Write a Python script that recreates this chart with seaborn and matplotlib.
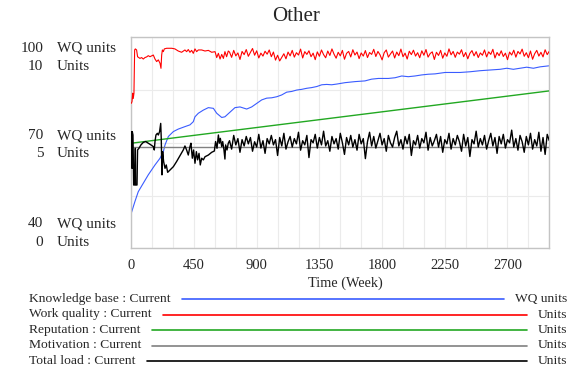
import numpy as np
import matplotlib
matplotlib.use("Agg")
import matplotlib.pyplot as plt
import seaborn as sns
from matplotlib.lines import Line2D

# ---------------- values
# Knowledge base (WQ units, left scale 40..100)
kb_weeks = [0, 26, 50, 86, 122, 170, 206, 230, 242, 266, 302, 337, 385, 421, 445,
            457, 481, 517, 553, 589, 613, 649, 672, 708, 744, 780, 828, 864, 900,
            936, 972, 1008, 1044, 1079, 1115, 1151, 1187, 1223, 1259, 1295, 1331,
            1367, 1402, 1438, 1474, 1534, 1606, 1677, 1725, 1773, 1845, 1893, 1941,
            1988, 2036, 2084, 2132, 2180, 2252, 2288, 2360, 2431, 2503, 2575, 2647,
            2695, 2742, 2790, 2838, 2886, 2934, 3000]
kb_values = [50.0, 53.3, 56.1, 58.5, 60.9, 63.7, 65.6, 67.5, 69.4, 71.8, 73.2, 73.9,
             74.6, 75.1, 76.0, 77.4, 78.4, 79.3, 80.0, 79.8, 78.4, 77.2, 77.4, 78.7,
             80.0, 80.2, 79.6, 80.2, 81.2, 82.2, 82.7, 82.8, 83.1, 83.6, 84.4, 84.6,
             85.0, 85.2, 85.5, 85.7, 86.0, 86.5, 86.6, 86.5, 86.7, 87.1, 87.4, 87.6,
             88.1, 88.3, 88.3, 88.5, 89.0, 88.8, 89.0, 89.3, 89.5, 89.6, 90.0, 90.0,
             90.0, 90.2, 90.5, 90.7, 90.9, 91.2, 90.9, 91.2, 91.5, 91.2, 91.6, 91.9]

# Work quality (Units, right scale 0..10)
wq_weeks = [0, 5, 10, 14, 19, 24, 29, 38, 45, 62, 74, 86, 98, 110, 122, 134, 158,
            170, 182, 194, 206, 213, 218, 223, 230, 237, 254, 290, 313, 337, 361,
            385, 397, 409, 421, 433, 445, 457, 469, 481, 505, 529, 553, 577, 601,
            613, 625, 637, 649, 661, 672, 684, 696]
wq_values = [6.87, 6.95, 7.35, 7.10, 7.35, 9.40, 9.45, 9.40, 9.08, 9.00, 9.04, 8.97,
             9.04, 9.07, 9.13, 9.08, 9.16, 8.97, 8.85, 8.93, 8.77, 8.53, 9.16, 9.40,
             9.32, 9.45, 9.48, 9.48, 9.45, 9.35, 9.29, 9.40, 9.32, 9.42, 9.29, 9.38,
             9.24, 9.45, 9.32, 9.40, 9.40, 9.35, 9.38, 9.29, 9.32, 9.04, 9.24, 8.97,
             9.19, 9.00, 9.32, 9.08, 9.35]
noise_weeks = np.arange(705, 3001, 15)
wq_noise = [9.30, 9.05, 9.38, 9.12, 9.26, 8.95, 9.33, 9.18, 9.42, 9.10,
            9.28, 9.47, 9.15, 9.36, 9.02, 9.25, 9.11, 9.34, 9.20, 9.40,
            9.08, 9.30, 8.92, 9.15, 8.88, 9.05, 9.22, 8.98, 9.30, 9.12,
            9.38, 9.06, 9.27, 9.16, 9.44, 9.02, 9.32, 9.19, 9.36, 9.08,
            9.25, 8.94, 9.31, 9.10, 9.40, 9.18, 9.03, 9.35, 9.14, 9.45,
            9.20, 9.01, 9.29, 9.12, 9.38, 8.96, 9.24, 9.33, 9.07, 9.41,
            9.16, 9.30, 8.99, 9.26, 9.11, 9.37, 9.04, 9.28, 9.19, 9.43,
            9.09, 9.33, 9.17, 8.93, 9.27, 9.40, 9.06, 9.21, 9.35, 9.02,
            9.30, 9.13, 9.44, 9.08, 9.25, 8.97, 9.34, 9.18, 9.39, 9.11,
            9.27, 9.03, 9.36, 9.15, 9.42, 9.06, 9.23, 9.31, 8.95, 9.29,
            9.14, 9.38, 9.01, 9.26, 9.10, 9.45, 9.17, 9.33, 9.05, 9.30,
            9.20, 9.41, 9.08, 9.28, 8.98, 9.24, 9.37, 9.12, 9.32, 9.04,
            9.26, 9.15, 9.40, 9.07, 9.31, 9.19, 9.43, 9.02, 9.28, 9.13,
            9.36, 9.09, 9.25, 8.94, 9.30, 9.16, 9.39, 9.06, 9.33, 9.21,
            9.44, 9.10, 9.27, 9.03, 9.35, 8.96, 9.22, 9.38, 9.11, 9.29,
            9.07, 9.41, 9.18, 9.34]

# Reputation and Motivation (Units)
rep_weeks = [0, 3000]
rep_values = [4.98, 7.46]
mot_weeks = [0, 3000]
mot_values = [4.79, 4.79]

# Total load (Units)
load_weeks = [0, 2, 5, 7, 12, 17, 24, 29, 31, 41, 45, 55, 69, 86, 103, 122, 141,
              158, 165, 170, 177, 187, 194, 203, 211, 215, 220, 225, 232, 242, 251,
              261, 278, 302, 325, 349, 373, 385, 397, 409, 421, 428, 438, 447, 457,
              467, 476, 486, 495, 505, 517, 529, 553, 577, 596, 605, 615, 625, 632,
              639, 649, 656, 665, 672, 677, 687, 696]
load_values = [5.53, 5.37, 3.79, 5.53, 5.37, 3.00, 3.00, 4.74, 3.00, 3.00, 4.66,
               4.74, 4.90, 5.02, 5.06, 4.98, 4.90, 4.82, 4.66, 5.06, 5.37, 5.45,
               5.37, 5.53, 5.92, 5.21, 3.48, 4.58, 4.11, 3.79, 3.95, 3.60, 3.71,
               3.87, 4.11, 4.39, 4.66, 4.85, 4.66, 4.42, 4.82, 4.98, 4.27, 4.66,
               4.03, 4.58, 4.19, 4.50, 3.95, 4.27, 4.19, 4.34, 4.42, 4.55, 4.61,
               5.06, 4.74, 5.37, 4.98, 5.21, 4.82, 5.06, 4.66, 4.23, 4.90, 4.66,
               4.98]
load_noise = [5.10, 4.70, 5.35, 4.90, 5.20, 4.55, 5.15, 4.85, 5.30, 4.95,
              5.25, 4.60, 5.05, 4.80, 5.40, 4.75, 5.10, 4.50, 5.20, 4.95,
              5.35, 4.90, 5.15, 4.40, 5.25, 4.85, 5.45, 4.70, 5.05, 5.30,
              4.80, 5.20, 4.95, 5.50, 4.65, 5.10, 4.90, 5.35, 4.30, 5.15,
              5.00, 5.40, 4.75, 5.25, 4.90, 5.55, 4.85, 5.10, 4.60, 5.30,
              4.95, 5.20, 4.70, 5.45, 5.00, 4.45, 5.25, 4.90, 5.35, 4.80,
              5.15, 4.65, 5.40, 4.95, 5.20, 4.25, 5.05, 5.50, 4.85, 5.30,
              4.75, 5.10, 5.45, 4.90, 5.20, 4.60, 5.35, 5.00, 4.80, 5.25,
              5.55, 4.85, 5.15, 4.70, 5.30, 4.95, 5.40, 4.40, 5.10, 4.90,
              5.35, 4.75, 5.20, 5.00, 5.50, 4.65, 5.25, 4.85, 5.10, 5.40,
              4.80, 5.30, 4.55, 5.15, 4.95, 5.45, 4.70, 5.20, 4.90, 5.35,
              5.05, 4.60, 5.40, 4.85, 5.25, 4.35, 5.15, 4.95, 5.55, 4.80,
              5.20, 4.90, 5.35, 4.70, 5.10, 5.45, 4.85, 5.25, 4.50, 5.30,
              4.95, 5.40, 4.75, 5.15, 5.00, 5.60, 4.80, 5.20, 4.65, 5.35,
              5.05, 4.55, 5.30, 4.90, 5.45, 4.70, 5.15, 4.85, 5.50, 4.60,
              5.25, 4.45, 5.40, 5.10]

series_names = ["Knowledge base : Current", "Work quality : Current",
                "Reputation : Current", "Motivation : Current",
                "Total load : Current"]
series_units = ["WQ units", "Units", "Units", "Units", "Units"]
series_colors = ["#3a5cff", "#ff0000", "#22a822", "#808080", "#000000"]
x_ticks = [0, 450, 900, 1350, 1800, 2250, 2700]
wq_ticks = ["100", "70", "40"]
unit_ticks = ["10", "5", "0"]

W, H = 570, 370


def fx(x):
    return x / W


def fy(y):
    return 1 - y / H


sns.set_style("white")
plt.rcParams["font.family"] = ["Liberation Serif", "DejaVu Serif"]
FS = 11

fig = plt.figure(figsize=(W / 100, H / 100), dpi=100)
ax = fig.add_axes([fx(131.3), fy(248.3), (549.3 - 131.3) / W, (248.3 - 37.3) / H])
ax2 = ax.twinx()

# left scale: knowledge base
ax.set_xlim(0, 3000)
ax.set_ylim(40, 100)
ax2.set_ylim(0, 10)
ax.set_yticks([40, 55, 70, 85, 100])
ax.set_yticklabels([])
ax.set_xticks(x_ticks)
ax.set_xticks(np.arange(0, 3001, 150), minor=True)
ax.set_xticklabels([str(t) for t in x_ticks], fontsize=10.5)
ax.tick_params(axis="both", which="both", length=0)
ax.tick_params(axis="x", pad=8)
ax.grid(True, which="both", color="#ebebeb", linewidth=0.8)
ax.set_axisbelow(True)
for s in ax.spines.values():
    s.set_color("#c4c4c4")
    s.set_linewidth(1.0)
ax2.set_yticks([])
for s in ax2.spines.values():
    s.set_visible(False)

sns.lineplot(x=kb_weeks, y=kb_values, ax=ax, color=series_colors[0], linewidth=0.8,
             estimator=None, sort=False)
sns.lineplot(x=list(wq_weeks) + list(noise_weeks), y=wq_values + wq_noise, ax=ax2,
             color=series_colors[1], linewidth=0.8, estimator=None, sort=False)
sns.lineplot(x=rep_weeks, y=rep_values, ax=ax2, color=series_colors[2], linewidth=1.0,
             estimator=None, sort=False)
sns.lineplot(x=mot_weeks, y=mot_values, ax=ax2, color=series_colors[3], linewidth=1.0,
             estimator=None, sort=False)
sns.lineplot(x=list(load_weeks) + list(noise_weeks), y=load_values + load_noise, ax=ax2,
             color=series_colors[4], linewidth=1.0, estimator=None, sort=False)
ax.set_xlabel("")
ax.set_ylabel("")
ax2.set_xlabel("")
ax2.set_ylabel("")

# title and axis label
fig.text(fx(296), fy(21), "Other", ha="center", va="baseline", fontsize=15)
fig.text(fx(345), fy(287), "Time (Week)", ha="center", va="baseline", fontsize=10.3)

# two-scale y labels
label_rows = [(51.7, 70.0), (139.3, 157.3), (227.3, 245.7)]
for (yb1, yb2), wq, un in zip(label_rows, wq_ticks, unit_ticks):
    fig.text(fx(43.3), fy(yb1), wq, ha="right", va="baseline", fontsize=FS)
    fig.text(fx(56.7), fy(yb1), "WQ units", ha="left", va="baseline", fontsize=FS)
    fig.text(fx(43.3), fy(yb2), un, ha="right", va="baseline", fontsize=FS)
    fig.text(fx(56.7), fy(yb2), "Units", ha="left", va="baseline", fontsize=FS)

# legend block under the chart
fig.canvas.draw()
renderer = fig.canvas.get_renderer()
row_y = [299, 314.5, 330, 345.5, 361]
for name, unit, color, y in zip(series_names, series_units, series_colors, row_y):
    t1 = fig.text(fx(29), fy(y), name, ha="left", va="center", fontsize=9.7)
    t2 = fig.text(fx(567), fy(y), unit, ha="right", va="center", fontsize=9.7)
    b1 = t1.get_window_extent(renderer)
    b2 = t2.get_window_extent(renderer)
    x0 = b1.x1 + 11
    x1 = b2.x0 - 11
    fig.add_artist(Line2D([x0 / W, x1 / W], [fy(y), fy(y)], color=color,
                          linewidth=1.2, transform=fig.transFigure))

fig.savefig("out.png", dpi=100)
